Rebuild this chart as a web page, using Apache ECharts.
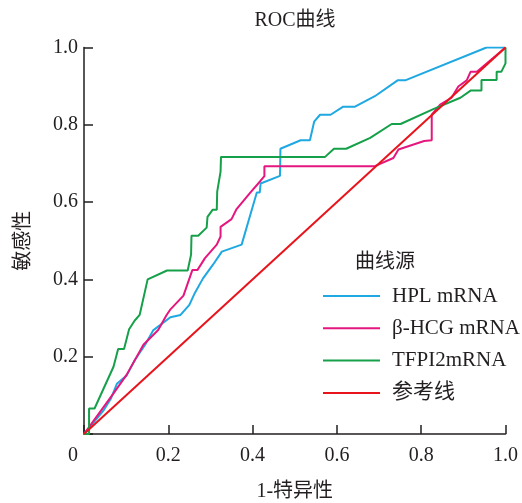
<!DOCTYPE html>
<html>
<head>
<meta charset="utf-8">
<script src="https://cdn.jsdelivr.net/npm/echarts@6/dist/echarts.min.js"></script>
<style>html,body{margin:0;padding:0;background:#fff}#c{width:522px;height:503px}</style>
</head>
<body>
<div id="c"></div>
<script>
var seriesNames = ['HPL mRNA', 'β-HCG mRNA', 'TFPI2mRNA', '参考线'];
var xTicks = [0, 0.2, 0.4, 0.6, 0.8, 1.0];

var hplX = [0, 0.047, 0.064, 0.078, 0.101, 0.121, 0.145, 0.164, 0.205, 0.229, 0.250, 0.263, 0.282, 0.306, 0.327, 0.374, 0.405, 0.410, 0.417, 0.419, 0.465, 0.466, 0.514, 0.536, 0.546, 0.560, 0.585, 0.615, 0.643, 0.690, 0.744, 0.762, 0.955, 1.0];
var hplY = [0, 0.062, 0.092, 0.130, 0.151, 0.192, 0.231, 0.268, 0.302, 0.308, 0.334, 0.365, 0.402, 0.438, 0.472, 0.490, 0.606, 0.625, 0.625, 0.648, 0.668, 0.738, 0.760, 0.760, 0.808, 0.826, 0.826, 0.847, 0.847, 0.874, 0.915, 0.915, 1.0, 1.0];

var hcgX = [0, 0.030, 0.070, 0.101, 0.141, 0.176, 0.196, 0.204, 0.236, 0.257, 0.269, 0.287, 0.315, 0.324, 0.324, 0.350, 0.362, 0.394, 0.418, 0.428, 0.428, 0.690, 0.734, 0.746, 0.807, 0.825, 0.825, 0.845, 0.872, 0.888, 0.908, 0.917, 0.932, 1.0];
var hcgY = [0, 0.045, 0.105, 0.153, 0.231, 0.269, 0.308, 0.321, 0.358, 0.424, 0.424, 0.455, 0.490, 0.511, 0.536, 0.556, 0.582, 0.624, 0.654, 0.667, 0.693, 0.693, 0.714, 0.736, 0.758, 0.760, 0.826, 0.852, 0.870, 0.899, 0.915, 0.937, 0.937, 1.0];

var tfX = [0, 0.012, 0.012, 0.025, 0.070, 0.081, 0.095, 0.107, 0.120, 0.132, 0.151, 0.197, 0.246, 0.254, 0.255, 0.271, 0.291, 0.293, 0.305, 0.315, 0.316, 0.324, 0.325, 0.572, 0.593, 0.622, 0.679, 0.730, 0.751, 0.830, 0.893, 0.918, 0.943, 0.943, 0.979, 0.979, 0.990, 1.0, 1.0];
var tfY = [0, 0, 0.066, 0.066, 0.174, 0.220, 0.220, 0.271, 0.293, 0.308, 0.400, 0.423, 0.423, 0.464, 0.513, 0.513, 0.534, 0.562, 0.580, 0.580, 0.627, 0.679, 0.717, 0.717, 0.738, 0.738, 0.766, 0.802, 0.802, 0.841, 0.870, 0.889, 0.889, 0.916, 0.916, 0.937, 0.937, 0.959, 1.0];

var refX = [0, 1];
var refY = [0, 1];

var colors = ['#1fa8e1', '#e5177f', '#16a04a', '#e8141c'];

function pairs(xs, ys) { return xs.map(function (x, i) { return [x, ys[i]]; }); }

var FONT = "'Liberation Serif', 'Noto Sans CJK SC', serif";
var INK = '#231f20';

var chart = echarts.init(document.getElementById('c'), null, { renderer: 'canvas' });
var allData = [pairs(hplX, hplY), pairs(hcgX, hcgY), pairs(tfX, tfY), pairs(refX, refY)];

chart.setOption({
  animation: false,
  backgroundColor: '#fff',
  grid: { left: 84, right: 16.5, top: 47.5, bottom: 69, outerBoundsMode: 'none', containLabel: false },
  graphic: [
    { type: 'text', x: 295, y: 21, style: { text: 'ROC曲线', font: '20px ' + FONT, fill: INK, align: 'center', verticalAlign: 'middle' } },
    { type: 'text', x: 385, y: 263, style: { text: '曲线源', font: '20px ' + FONT, fill: INK, align: 'center', verticalAlign: 'middle' } }
  ],
  legend: {
    orient: 'vertical',
    left: 323, top: 285,
    padding: 0,
    icon: 'path://M0,0 L57,0 L57,2 L0,2 Z',
    itemWidth: 57, itemHeight: 14,
    itemGap: 10.3,
    textGap: 13,
    data: seriesNames,
    textStyle: { fontFamily: FONT, fontSize: 21, color: INK, lineHeight: 22, width: 100, overflow: 'none', padding: [0, 0, 0, 7] }
  },
  xAxis: {
    type: 'value', min: 0, max: 1, interval: 0.2,
    name: '1-特异性', nameLocation: 'middle', nameGap: 48,
    nameTextStyle: { fontFamily: FONT, fontSize: 20, color: INK },
    axisLine: { show: true, onZero: false, lineStyle: { color: INK, width: 1.5 } },
    axisTick: { show: true, inside: true, length: 9, lineStyle: { color: INK, width: 1.5 } },
    splitLine: { show: false },
    axisLabel: {
      margin: 12,
      fontFamily: FONT, fontSize: 20, color: INK,
      formatter: function (v) { return v === 0 ? '{z|0}' : v.toFixed(1); },
      rich: { z: { fontFamily: FONT, fontSize: 20, color: INK, padding: [0, 22, 0, 0] } }
    }
  },
  yAxis: {
    type: 'value', min: 0, max: 1, interval: 0.2,
    name: '敏感性', nameLocation: 'middle', nameGap: 50, nameRotate: 90,
    nameTextStyle: { fontFamily: FONT, fontSize: 20, color: INK },
    axisLine: { show: true, onZero: false, lineStyle: { color: INK, width: 1.5 } },
    axisTick: { show: true, inside: true, length: 9, lineStyle: { color: INK, width: 1.5 } },
    splitLine: { show: false },
    axisLabel: {
      margin: 6,
      fontFamily: FONT, fontSize: 20, color: INK,
      formatter: function (v) { return v === 0 ? '' : v.toFixed(1); }
    }
  },
  series: seriesNames.map(function (n, i) {
    return {
      name: n, type: 'line', data: allData[i],
      symbol: 'none', smooth: false,
      color: colors[i],
      lineStyle: { color: colors[i], width: 2 },
      z: i === 3 ? 3 : 2
    };
  })
});
</script>
</body>
</html>
